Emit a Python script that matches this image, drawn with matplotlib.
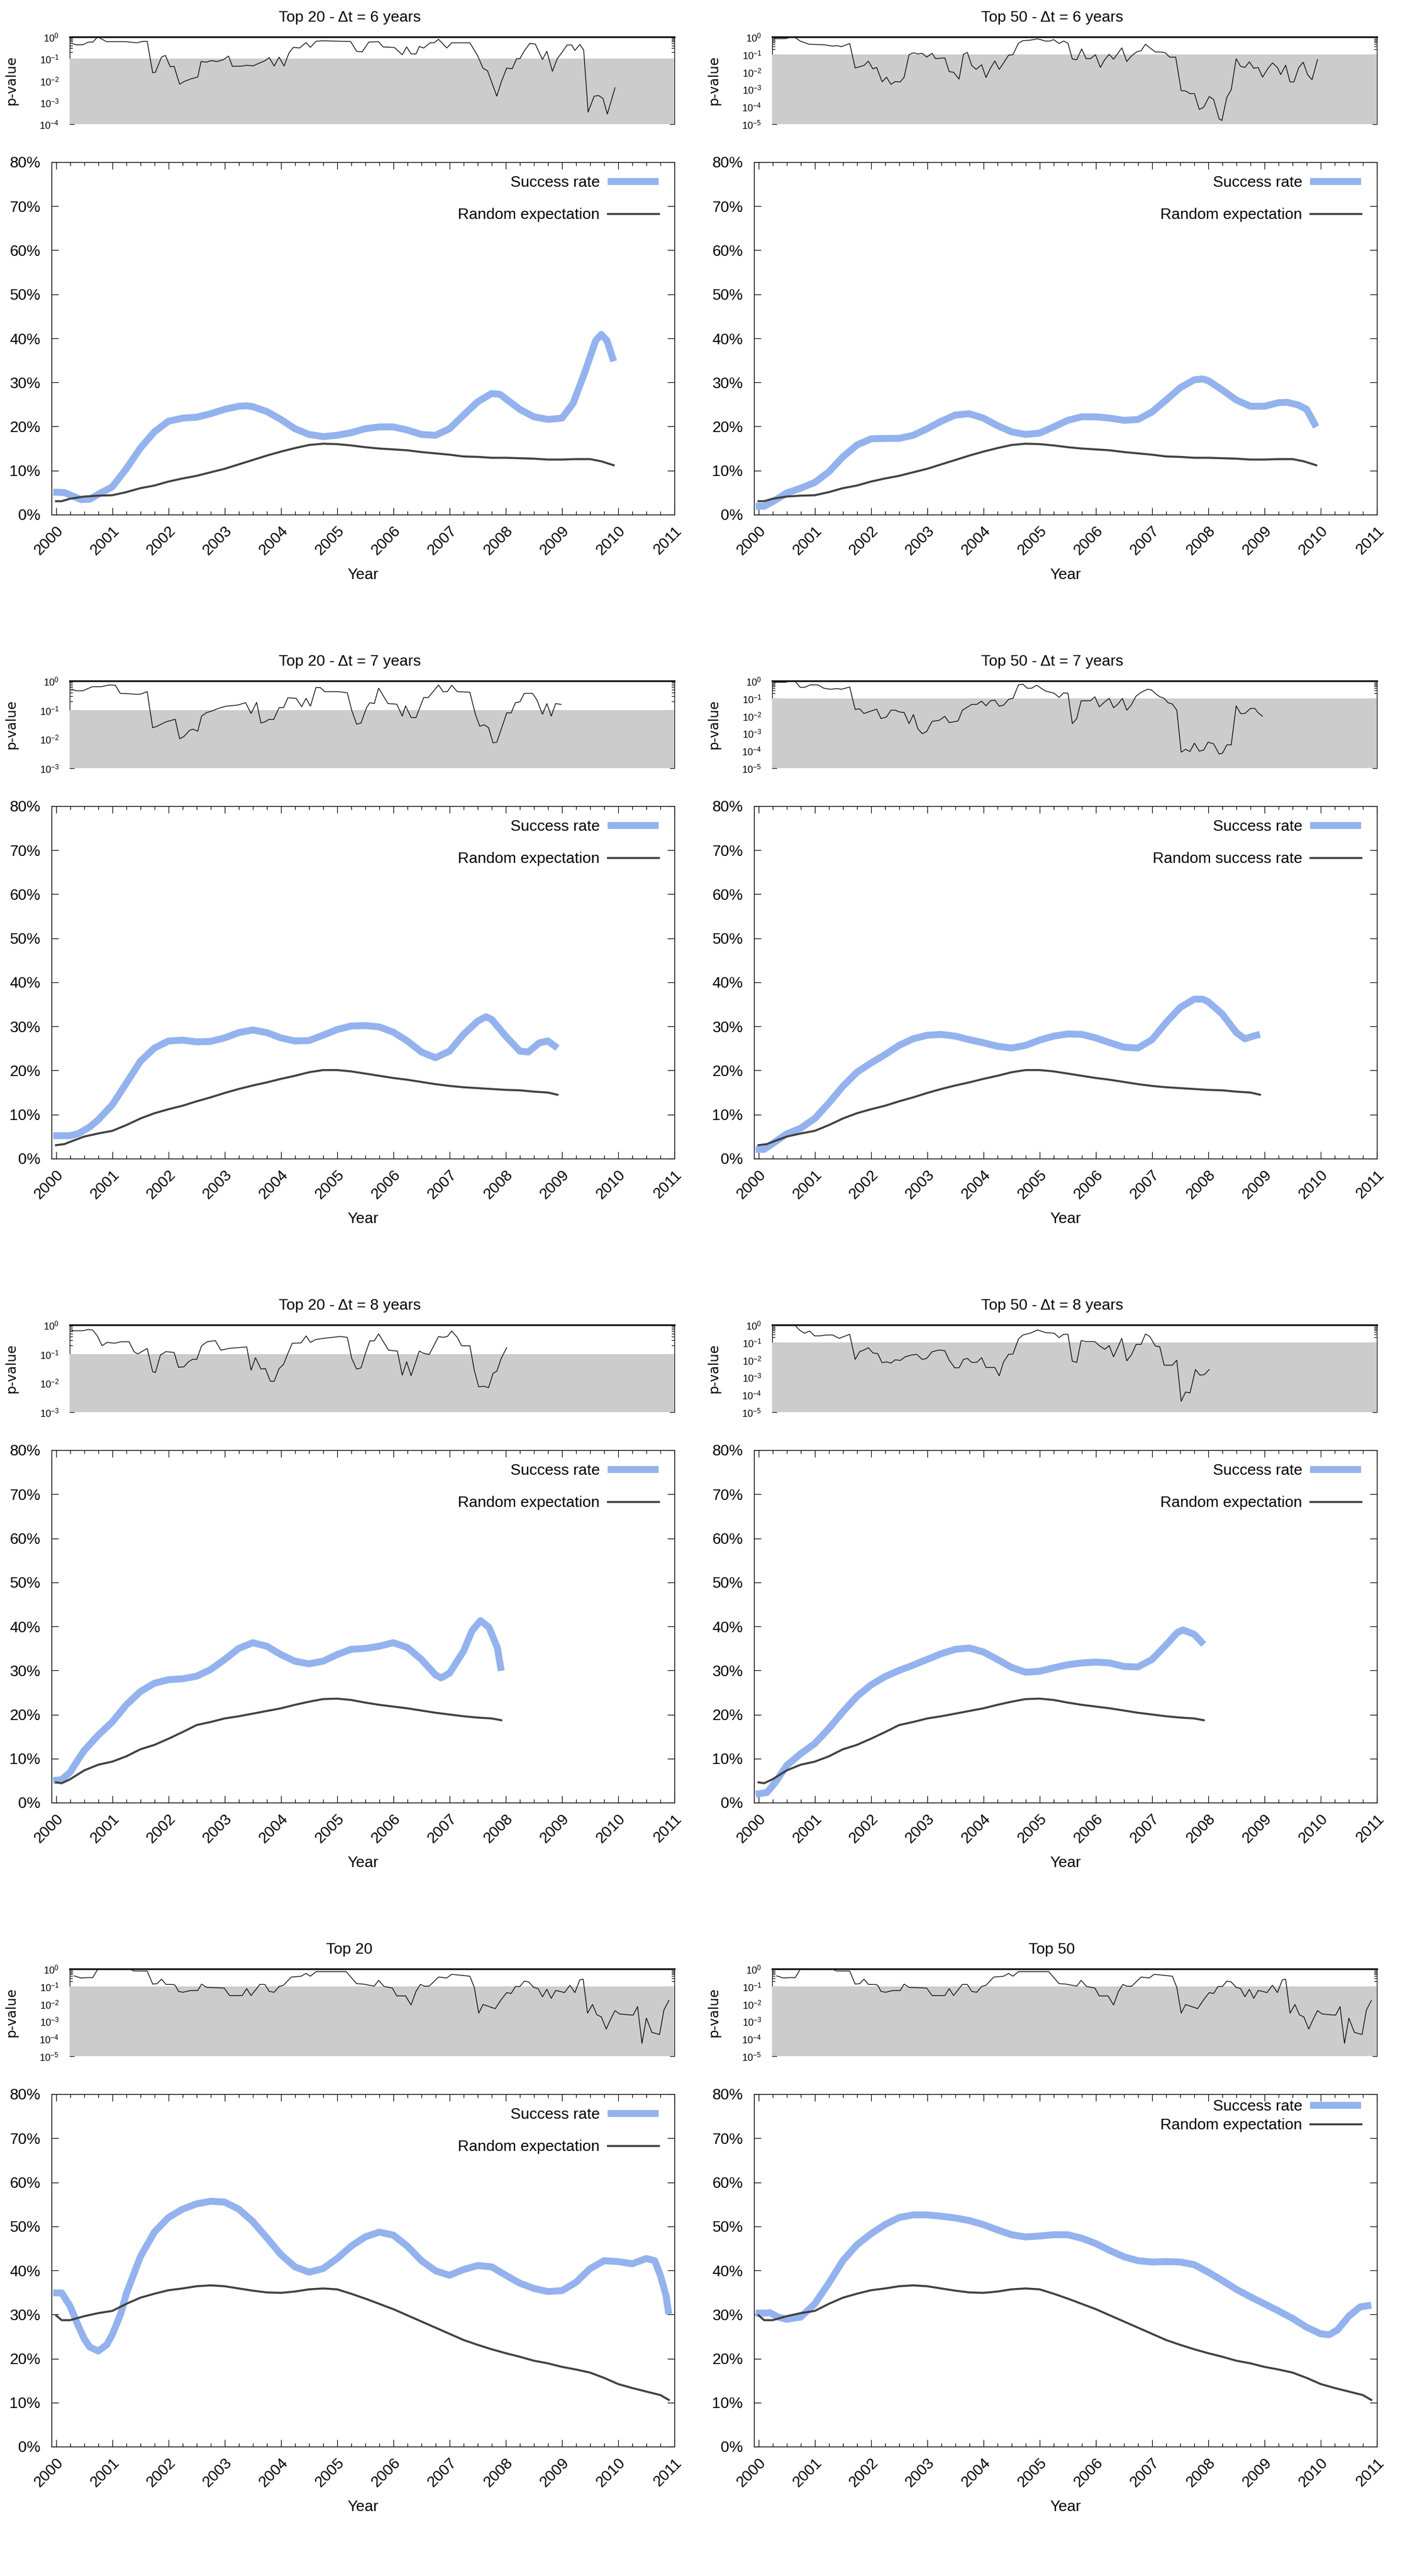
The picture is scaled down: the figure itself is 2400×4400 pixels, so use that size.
import numpy as np
import matplotlib
matplotlib.use('Agg')
import matplotlib.pyplot as plt
from matplotlib.lines import Line2D
from matplotlib.ticker import LogLocator, FixedLocator, MultipleLocator, FuncFormatter, NullFormatter

plt.rcParams['font.family'] = ['Liberation Sans', 'DejaVu Sans']
plt.rcParams['mathtext.fontset'] = 'custom'
plt.rcParams['mathtext.rm'] = 'Liberation Sans'
plt.rcParams['mathtext.it'] = 'Liberation Sans:italic'
plt.rcParams['mathtext.bf'] = 'Liberation Sans:bold'

# ---------------- data ----------------
titles = ['Top 20 - Δt = 6 years', 'Top 50 - Δt = 6 years',
          'Top 20 - Δt = 7 years', 'Top 50 - Δt = 7 years',
          'Top 20 - Δt = 8 years', 'Top 50 - Δt = 8 years',
          'Top 20', 'Top 50']
random_labels = ['Random expectation', 'Random expectation',
                 'Random expectation', 'Random success rate',
                 'Random expectation', 'Random expectation',
                 'Random expectation', 'Random expectation']
year_ticks = [2000, 2001, 2002, 2003, 2004, 2005, 2006, 2007, 2008, 2009, 2010, 2011]
year_labels = ['2000', '2001', '2002', '2003', '2004', '2005', '2006', '2007', '2008', '2009', '2010', '2011']
pct_ticks = [0, 10, 20, 30, 40, 50, 60, 70, 80]

# success rates (%)
s1_x = [1999.95, 2000.15, 2000.3, 2000.45, 2000.6, 2000.75, 2001.0, 2001.25, 2001.5, 2001.75, 2002.0, 2002.25,
        2002.5, 2002.75, 2003.0, 2003.25, 2003.4, 2003.5, 2003.75, 2004.0, 2004.25, 2004.5, 2004.75, 2005.0,
        2005.25, 2005.5, 2005.75, 2006.0, 2006.25, 2006.5, 2006.75, 2007.0, 2007.25, 2007.5, 2007.75, 2007.9,
        2008.0, 2008.25, 2008.5, 2008.75, 2009.0, 2009.2, 2009.4, 2009.6, 2009.7, 2009.8, 2009.92]
s1_y = [5.1, 5.0, 4.2, 3.4, 3.5, 4.6, 6.3, 10.4, 15.1, 18.8, 21.2, 21.9,
        22.1, 22.9, 23.9, 24.6, 24.7, 24.5, 23.4, 21.6, 19.5, 18.2, 17.7, 18.0,
        18.6, 19.5, 19.9, 19.9, 19.2, 18.2, 18.0, 19.5, 22.6, 25.6, 27.5, 27.3,
        26.3, 23.9, 22.2, 21.6, 21.9, 25.3, 32.1, 39.5, 40.9, 39.5, 34.8]

s2_x = [1999.95, 2000.1, 2000.25, 2000.5, 2000.75, 2001.0, 2001.25, 2001.5, 2001.75, 2002.0, 2002.25, 2002.5,
        2002.75, 2003.0, 2003.25, 2003.5, 2003.75, 2004.0, 2004.25, 2004.5, 2004.75, 2005.0, 2005.25, 2005.5,
        2005.75, 2006.0, 2006.25, 2006.5, 2006.75, 2007.0, 2007.25, 2007.5, 2007.75, 2007.9, 2008.0, 2008.25,
        2008.5, 2008.75, 2009.0, 2009.25, 2009.4, 2009.6, 2009.75, 2009.92]
s2_y = [1.9, 1.9, 2.9, 4.9, 6.0, 7.3, 9.7, 13.1, 15.8, 17.2, 17.3, 17.3,
        18.0, 19.5, 21.2, 22.6, 22.9, 21.9, 20.2, 18.8, 18.2, 18.5, 19.9, 21.4,
        22.2, 22.2, 21.9, 21.4, 21.6, 23.3, 26.0, 28.8, 30.6, 30.8, 30.4, 28.3,
        26.0, 24.6, 24.6, 25.4, 25.5, 24.9, 23.9, 19.9]

s3_x = [1999.95, 2000.25, 2000.4, 2000.6, 2000.75, 2001.0, 2001.25, 2001.5, 2001.75, 2002.0, 2002.25, 2002.5,
        2002.75, 2003.0, 2003.25, 2003.5, 2003.75, 2004.0, 2004.25, 2004.5, 2004.75, 2005.0, 2005.25, 2005.5,
        2005.75, 2006.0, 2006.25, 2006.5, 2006.75, 2007.0, 2007.25, 2007.5, 2007.65, 2007.75, 2008.0, 2008.25,
        2008.4, 2008.6, 2008.75, 2008.92]
s3_y = [5.2, 5.2, 5.7, 7.2, 8.8, 12.2, 17.1, 22.1, 25.1, 26.7, 26.9, 26.5,
        26.6, 27.4, 28.6, 29.2, 28.6, 27.4, 26.7, 26.8, 28.0, 29.3, 30.1, 30.2,
        29.9, 28.7, 26.7, 24.2, 22.9, 24.4, 28.2, 31.2, 32.2, 31.6, 27.8, 24.4,
        24.2, 26.3, 26.7, 25.1]

s4_x = [1999.95, 2000.1, 2000.25, 2000.5, 2000.75, 2001.0, 2001.25, 2001.5, 2001.75, 2002.0, 2002.25, 2002.5,
        2002.75, 2003.0, 2003.25, 2003.5, 2003.75, 2004.0, 2004.25, 2004.5, 2004.75, 2005.0, 2005.25, 2005.5,
        2005.75, 2006.0, 2006.25, 2006.5, 2006.75, 2007.0, 2007.25, 2007.5, 2007.75, 2007.9, 2008.0, 2008.25,
        2008.5, 2008.65, 2008.8, 2008.92]
s4_y = [2.1, 2.1, 3.4, 5.6, 6.9, 9.1, 12.6, 16.4, 19.6, 21.7, 23.6, 25.7,
        27.2, 28.0, 28.2, 27.8, 27.0, 26.3, 25.5, 25.1, 25.7, 26.9, 27.8, 28.3,
        28.2, 27.4, 26.3, 25.3, 25.1, 27.0, 30.9, 34.3, 36.2, 36.2, 35.6, 32.8,
        28.6, 27.2, 27.8, 28.2]

s5_x = [1999.95, 2000.1, 2000.25, 2000.4, 2000.5, 2000.75, 2001.0, 2001.25, 2001.5, 2001.75, 2002.0, 2002.25,
        2002.5, 2002.75, 2003.0, 2003.25, 2003.5, 2003.75, 2004.0, 2004.25, 2004.5, 2004.75, 2005.0, 2005.25,
        2005.5, 2005.75, 2006.0, 2006.25, 2006.5, 2006.75, 2006.85, 2007.0, 2007.25, 2007.4, 2007.55, 2007.7,
        2007.85, 2007.92]
s5_y = [5.0, 5.2, 6.9, 9.9, 11.8, 15.3, 18.3, 22.2, 25.2, 27.1, 27.9, 28.1,
        28.7, 30.2, 32.5, 35.0, 36.3, 35.5, 33.6, 32.1, 31.5, 32.1, 33.6, 34.8,
        35.0, 35.5, 36.3, 35.2, 32.5, 29.0, 28.3, 29.4, 34.4, 39.0, 41.3, 39.8,
        35.2, 29.9]

s6_x = [1999.95, 2000.15, 2000.3, 2000.5, 2000.75, 2001.0, 2001.25, 2001.5, 2001.75, 2002.0, 2002.25, 2002.5,
        2002.75, 2003.0, 2003.25, 2003.5, 2003.75, 2004.0, 2004.25, 2004.5, 2004.75, 2005.0, 2005.25, 2005.5,
        2005.75, 2006.0, 2006.25, 2006.5, 2006.75, 2007.0, 2007.25, 2007.45, 2007.55, 2007.75, 2007.92]
s6_y = [1.9, 2.3, 4.6, 8.4, 11.1, 13.4, 16.8, 20.6, 24.1, 26.7, 28.6, 30.0,
        31.2, 32.5, 33.8, 34.8, 35.1, 34.2, 32.5, 30.7, 29.6, 29.8, 30.6, 31.3,
        31.7, 31.9, 31.7, 30.9, 30.8, 32.5, 35.8, 38.6, 39.2, 38.2, 35.9]

s7_x = [1999.95, 2000.1, 2000.25, 2000.4, 2000.5, 2000.6, 2000.75, 2000.9, 2001.0, 2001.15, 2001.25, 2001.5,
        2001.75, 2002.0, 2002.25, 2002.5, 2002.75, 2003.0, 2003.25, 2003.5, 2003.75, 2004.0, 2004.25, 2004.5,
        2004.75, 2005.0, 2005.25, 2005.5, 2005.75, 2006.0, 2006.25, 2006.5, 2006.75, 2007.0, 2007.25, 2007.5,
        2007.75, 2008.0, 2008.25, 2008.5, 2008.75, 2009.0, 2009.25, 2009.5, 2009.75, 2010.0, 2010.25, 2010.5,
        2010.65, 2010.75, 2010.85, 2010.9]
s7_y = [34.9, 34.9, 31.9, 27.3, 24.5, 22.6, 21.7, 23.1, 25.4, 30.1, 34.7, 43.1,
        48.7, 52.0, 53.9, 55.1, 55.7, 55.5, 53.9, 51.1, 47.4, 43.6, 40.8, 39.6,
        40.4, 42.7, 45.5, 47.6, 48.7, 48.0, 45.5, 42.2, 39.9, 38.9, 40.2, 41.1,
        40.8, 38.9, 37.1, 35.9, 35.2, 35.4, 37.3, 40.4, 42.2, 42.0, 41.5, 42.7,
        42.2, 38.9, 34.3, 30.1]

s8_x = [1999.95, 2000.1, 2000.2, 2000.35, 2000.5, 2000.75, 2001.0, 2001.25, 2001.5, 2001.75, 2002.0, 2002.25,
        2002.5, 2002.75, 2003.0, 2003.25, 2003.5, 2003.75, 2004.0, 2004.25, 2004.5, 2004.75, 2005.0, 2005.25,
        2005.5, 2005.75, 2006.0, 2006.25, 2006.5, 2006.75, 2007.0, 2007.25, 2007.5, 2007.75, 2008.0, 2008.25,
        2008.5, 2008.75, 2009.0, 2009.25, 2009.5, 2009.75, 2010.0, 2010.15, 2010.3, 2010.5, 2010.7, 2010.9]
s8_y = [30.3, 30.3, 30.4, 29.4, 28.9, 29.4, 32.4, 37.1, 42.2, 45.8, 48.3, 50.4,
        52.0, 52.6, 52.6, 52.3, 51.9, 51.3, 50.4, 49.2, 48.1, 47.6, 47.8, 48.1,
        48.1, 47.3, 46.1, 44.5, 43.1, 42.2, 41.9, 42.0, 41.9, 41.3, 39.6, 37.7,
        35.7, 34.0, 32.4, 30.8, 29.1, 27.1, 25.6, 25.4, 26.5, 29.6, 31.7, 32.1]

# random expectation (%)
r6_x = [2000.0, 2000.1, 2000.25, 2000.5, 2000.75, 2001.0, 2001.25, 2001.5, 2001.75, 2002.0, 2002.25, 2002.5,
        2002.75, 2003.0, 2003.25, 2003.5, 2003.75, 2004.0, 2004.25, 2004.5, 2004.75, 2005.0, 2005.25, 2005.5,
        2005.75, 2006.0, 2006.25, 2006.5, 2006.75, 2007.0, 2007.25, 2007.5, 2007.75, 2008.0, 2008.25, 2008.5,
        2008.75, 2009.0, 2009.25, 2009.5, 2009.7, 2009.92]
r6_y = [3.05, 3.05, 3.6, 4.1, 4.3, 4.4, 5.1, 6.0, 6.6, 7.5, 8.2, 8.8,
        9.6, 10.4, 11.4, 12.4, 13.4, 14.3, 15.1, 15.8, 16.1, 16.0, 15.7, 15.3,
        15.0, 14.8, 14.6, 14.2, 13.9, 13.6, 13.2, 13.1, 12.9, 12.9, 12.8, 12.7,
        12.5, 12.5, 12.6, 12.6, 12.1, 11.2]

r7_x = [2000.0, 2000.15, 2000.25, 2000.5, 2000.75, 2001.0, 2001.25, 2001.5, 2001.75, 2002.0, 2002.25, 2002.5,
        2002.75, 2003.0, 2003.25, 2003.5, 2003.75, 2004.0, 2004.25, 2004.5, 2004.75, 2005.0, 2005.25, 2005.5,
        2005.75, 2006.0, 2006.25, 2006.5, 2006.75, 2007.0, 2007.25, 2007.5, 2007.75, 2008.0, 2008.25, 2008.5,
        2008.75, 2008.92]
r7_y = [3.05, 3.3, 3.8, 5.0, 5.7, 6.3, 7.6, 9.1, 10.3, 11.2, 12.0, 13.0,
        13.9, 14.9, 15.8, 16.6, 17.3, 18.1, 18.8, 19.6, 20.1, 20.1, 19.8, 19.3,
        18.8, 18.3, 17.9, 17.4, 16.9, 16.5, 16.2, 16.0, 15.8, 15.6, 15.5, 15.2,
        15.0, 14.5]

r8_x = [2000.0, 2000.1, 2000.25, 2000.5, 2000.75, 2001.0, 2001.25, 2001.5, 2001.75, 2002.0, 2002.25, 2002.5,
        2002.75, 2003.0, 2003.25, 2003.5, 2003.75, 2004.0, 2004.25, 2004.5, 2004.75, 2005.0, 2005.25, 2005.5,
        2005.75, 2006.0, 2006.25, 2006.5, 2006.75, 2007.0, 2007.25, 2007.5, 2007.75, 2007.92]
r8_y = [4.6, 4.4, 5.3, 7.3, 8.6, 9.3, 10.5, 12.1, 13.1, 14.5, 16.0, 17.6,
        18.3, 19.1, 19.6, 20.2, 20.8, 21.4, 22.2, 22.9, 23.5, 23.6, 23.3, 22.7,
        22.2, 21.8, 21.4, 20.9, 20.4, 20.0, 19.6, 19.3, 19.1, 18.7]

rall_x = [2000.0, 2000.1, 2000.25, 2000.5, 2000.75, 2001.0, 2001.25, 2001.5, 2001.75, 2002.0, 2002.25, 2002.5,
          2002.75, 2003.0, 2003.25, 2003.5, 2003.75, 2004.0, 2004.25, 2004.5, 2004.75, 2005.0, 2005.25, 2005.5,
          2005.75, 2006.0, 2006.25, 2006.5, 2006.75, 2007.0, 2007.25, 2007.5, 2007.75, 2008.0, 2008.25, 2008.5,
          2008.75, 2009.0, 2009.25, 2009.5, 2009.75, 2010.0, 2010.25, 2010.5, 2010.75, 2010.9]
rall_y = [29.8, 28.7, 28.7, 29.6, 30.3, 30.8, 32.4, 33.8, 34.7, 35.5, 35.9, 36.4,
          36.6, 36.4, 35.9, 35.4, 35.0, 34.9, 35.2, 35.7, 35.9, 35.7, 34.7, 33.6,
          32.4, 31.2, 29.8, 28.4, 27.0, 25.6, 24.2, 23.1, 22.1, 21.2, 20.4, 19.5,
          18.9, 18.1, 17.5, 16.8, 15.6, 14.2, 13.3, 12.5, 11.7, 10.6]

# p-values, stored as log10(p)
p1_x = [2000.04, 2000.12, 2000.24, 2000.34, 2000.42, 2000.51, 2000.67, 2001.02, 2001.22, 2001.33,
        2001.41, 2001.51, 2001.56, 2001.67, 2001.74, 2001.83, 2001.90, 2002.00, 2002.08, 2002.20,
        2002.33, 2002.39, 2002.49, 2002.57, 2002.69, 2002.80, 2002.89, 2002.96, 2003.14, 2003.22,
        2003.34, 2003.46, 2003.55, 2003.63, 2003.72, 2003.81, 2003.90, 2003.99, 2004.07, 2004.18,
        2004.30, 2004.38, 2004.48, 2004.60, 2004.93, 2005.11, 2005.22, 2005.32, 2005.44, 2005.62,
        2005.70, 2005.91, 2006.05, 2006.13, 2006.21, 2006.30, 2006.36, 2006.44, 2006.56, 2006.63,
        2006.71, 2006.86, 2006.95, 2007.28, 2007.42, 2007.52, 2007.60, 2007.77, 2007.85, 2007.95,
        2008.05, 2008.13, 2008.19, 2008.27, 2008.37, 2008.47, 2008.60, 2008.68, 2008.78, 2008.87,
        2008.97, 2009.05, 2009.13, 2009.19, 2009.28, 2009.35, 2009.43, 2009.54, 2009.62, 2009.70,
        2009.78, 2009.92]
p1_e = [-0.30, -0.36, -0.36, -0.24, -0.24, 0.0, -0.22, -0.22, -0.27, -0.21,
        -0.20, -1.64, -1.62, -0.93, -0.85, -1.37, -1.35, -2.17, -2.05, -1.93,
        -1.84, -1.13, -1.16, -1.09, -1.13, -1.04, -0.88, -1.35, -1.34, -1.30,
        -1.33, -1.19, -1.10, -0.95, -1.34, -0.93, -1.34, -0.73, -0.48, -0.51,
        -0.26, -0.48, -0.20, -0.18, -0.20, -0.21, -0.66, -0.69, -0.24, -0.22,
        -0.46, -0.49, -0.82, -0.46, -0.78, -0.78, -0.44, -0.51, -0.27, -0.27,
        -0.11, -0.51, -0.27, -0.27, -0.86, -1.44, -1.55, -2.72, -2.07, -1.43,
        -1.46, -1.0, -1.0, -0.64, -0.30, -0.33, -1.04, -0.66, -1.58, -1.0,
        -0.66, -0.37, -0.37, -0.62, -0.35, -0.60, -3.45, -2.72, -2.69, -2.82,
        -3.54, -2.33]

p2_x = [2000.04, 2000.24, 2000.31, 2000.41, 2000.51, 2000.67, 2000.94, 2001.10, 2001.18, 2001.26,
        2001.41, 2001.51, 2001.67, 2001.75, 2001.83, 2001.90, 2002.00, 2002.08, 2002.16, 2002.24,
        2002.33, 2002.40, 2002.49, 2002.57, 2002.65, 2002.73, 2002.81, 2002.91, 2002.97, 2003.14,
        2003.22, 2003.30, 2003.40, 2003.48, 2003.55, 2003.63, 2003.71, 2003.81, 2003.89, 2003.97,
        2004.05, 2004.13, 2004.21, 2004.30, 2004.38, 2004.48, 2004.56, 2004.69, 2004.83, 2004.97,
        2005.05, 2005.12, 2005.22, 2005.30, 2005.38, 2005.46, 2005.54, 2005.63, 2005.71, 2005.79,
        2005.88, 2005.97, 2006.05, 2006.13, 2006.21, 2006.36, 2006.45, 2006.54, 2006.64, 2006.71,
        2006.79, 2006.87, 2006.97, 2007.09, 2007.15, 2007.23, 2007.34, 2007.44, 2007.52, 2007.60,
        2007.68, 2007.77, 2007.85, 2007.95, 2008.03, 2008.13, 2008.18, 2008.27, 2008.35, 2008.44,
        2008.52, 2008.60, 2008.68, 2008.76, 2008.84, 2008.92, 2009.02, 2009.10, 2009.19, 2009.25,
        2009.34, 2009.42, 2009.49, 2009.58, 2009.66, 2009.74, 2009.82, 2009.92]
p2_e = [-0.10, -0.10, -0.04, -0.02, -0.24, -0.42, -0.45, -0.53, -0.50, -0.56,
        -0.38, -1.78, -1.64, -1.39, -1.83, -1.75, -2.58, -2.31, -2.72, -2.56,
        -2.58, -2.31, -1.02, -0.91, -0.98, -0.94, -1.16, -0.94, -1.25, -1.20,
        -1.99, -2.03, -2.42, -1.00, -0.89, -1.64, -1.86, -1.60, -2.33, -1.80,
        -1.38, -1.86, -1.49, -1.05, -1.02, -0.36, -0.22, -0.19, -0.11, -0.24,
        -0.24, -0.16, -0.38, -0.24, -0.36, -1.27, -1.31, -0.69, -1.25, -1.25,
        -1.02, -1.75, -1.30, -1.00, -1.28, -0.63, -1.41, -1.08, -0.84, -0.80,
        -0.42, -0.63, -0.86, -0.87, -0.91, -1.16, -1.16, -3.08, -3.10, -3.25,
        -3.25, -4.16, -4.03, -3.42, -3.59, -4.70, -4.79, -3.47, -3.03, -1.25,
        -1.69, -1.75, -1.43, -1.80, -1.75, -2.31, -1.80, -1.49, -1.75, -2.16,
        -1.62, -2.58, -2.58, -1.75, -1.45, -2.17, -2.45, -1.30]

p3_x = [2000.04, 2000.12, 2000.24, 2000.41, 2000.57, 2000.73, 2000.83, 2000.92, 2001.06, 2001.18,
        2001.28, 2001.41, 2001.51, 2001.59, 2001.75, 2001.92, 2002.00, 2002.08, 2002.18, 2002.24,
        2002.33, 2002.40, 2002.49, 2002.58, 2002.73, 2002.85, 2003.06, 2003.20, 2003.30, 2003.40,
        2003.48, 2003.55, 2003.63, 2003.71, 2003.81, 2003.89, 2003.97, 2004.12, 2004.22, 2004.30,
        2004.38, 2004.48, 2004.56, 2004.64, 2004.89, 2005.05, 2005.13, 2005.22, 2005.30, 2005.40,
        2005.46, 2005.54, 2005.62, 2005.79, 2005.95, 2006.05, 2006.11, 2006.21, 2006.30, 2006.44,
        2006.52, 2006.71, 2006.79, 2006.87, 2006.95, 2007.05, 2007.28, 2007.38, 2007.46, 2007.54,
        2007.62, 2007.70, 2007.77, 2007.95, 2008.03, 2008.11, 2008.19, 2008.27, 2008.42, 2008.50,
        2008.60, 2008.68, 2008.76, 2008.84, 2008.94]
p3_e = [-0.29, -0.34, -0.34, -0.20, -0.20, -0.14, -0.15, -0.43, -0.44, -0.46,
        -0.46, -0.37, -1.61, -1.56, -1.41, -1.32, -1.99, -1.91, -1.70, -1.66,
        -1.73, -1.21, -1.09, -1.04, -0.93, -0.87, -0.83, -0.75, -1.12, -0.74,
        -1.45, -1.41, -1.32, -1.33, -0.92, -0.92, -0.58, -0.60, -0.89, -0.60,
        -0.87, -0.23, -0.23, -0.37, -0.37, -0.41, -1.01, -1.49, -1.45, -0.92,
        -0.75, -0.78, -0.25, -0.78, -0.80, -1.21, -0.86, -1.26, -1.26, -0.57,
        -0.58, -0.14, -0.37, -0.37, -0.15, -0.37, -0.39, -1.15, -1.56, -1.51,
        -1.61, -2.13, -2.11, -1.10, -1.10, -0.75, -0.72, -0.43, -0.43, -0.66,
        -1.15, -0.78, -1.21, -0.78, -0.81]

p4_x = [2000.04, 2000.23, 2000.34, 2000.42, 2000.51, 2000.59, 2000.69, 2000.83, 2000.94, 2001.06,
        2001.18, 2001.26, 2001.41, 2001.51, 2001.59, 2001.67, 2001.75, 2001.90, 2001.98, 2002.08,
        2002.16, 2002.24, 2002.31, 2002.40, 2002.49, 2002.57, 2002.65, 2002.73, 2002.81, 2002.91,
        2003.04, 2003.14, 2003.22, 2003.38, 2003.46, 2003.63, 2003.72, 2003.81, 2003.89, 2003.97,
        2004.05, 2004.13, 2004.21, 2004.30, 2004.38, 2004.48, 2004.56, 2004.64, 2004.72, 2004.81,
        2004.97, 2005.13, 2005.22, 2005.30, 2005.38, 2005.46, 2005.54, 2005.62, 2005.79, 2005.87,
        2005.95, 2006.05, 2006.13, 2006.21, 2006.29, 2006.37, 2006.45, 2006.53, 2006.62, 2006.72,
        2006.83, 2006.90, 2006.98, 2007.05, 2007.13, 2007.20, 2007.28, 2007.36, 2007.44, 2007.52,
        2007.60, 2007.68, 2007.77, 2007.85, 2007.93, 2008.03, 2008.13, 2008.19, 2008.27, 2008.35,
        2008.44, 2008.52, 2008.60, 2008.70, 2008.78, 2008.84, 2008.92]
p4_e = [-0.08, -0.08, -0.02, -0.04, -0.37, -0.37, -0.23, -0.23, -0.42, -0.48,
        -0.44, -0.48, -0.35, -1.64, -1.60, -1.87, -1.78, -1.62, -2.16, -2.07,
        -1.68, -1.68, -1.78, -1.81, -2.45, -1.93, -2.74, -3.03, -2.90, -2.32,
        -2.26, -2.03, -2.39, -2.30, -1.68, -1.35, -1.35, -1.16, -1.43, -1.14,
        -1.10, -1.45, -1.39, -1.06, -1.00, -0.23, -0.19, -0.42, -0.42, -0.25,
        -0.58, -0.71, -0.95, -0.69, -0.71, -2.45, -2.16, -1.14, -1.14, -0.91,
        -1.49, -1.20, -1.00, -1.54, -1.33, -1.00, -1.68, -1.39, -0.87, -0.64,
        -0.48, -0.52, -0.75, -0.91, -1.00, -1.25, -1.33, -1.68, -4.09, -3.92,
        -4.05, -3.57, -4.03, -3.96, -3.51, -3.61, -4.19, -4.15, -3.67, -3.67,
        -1.43, -1.87, -1.87, -1.58, -1.58, -1.83, -2.03]

p5_x = [2000.04, 2000.24, 2000.34, 2000.42, 2000.51, 2000.59, 2000.68, 2000.81, 2000.94, 2001.08,
        2001.17, 2001.24, 2001.41, 2001.51, 2001.56, 2001.65, 2001.75, 2001.90, 2001.98, 2002.08,
        2002.16, 2002.24, 2002.31, 2002.40, 2002.50, 2002.65, 2002.75, 2002.89, 2003.14, 2003.22,
        2003.30, 2003.38, 2003.48, 2003.56, 2003.65, 2003.72, 2003.81, 2003.89, 2003.97, 2004.05,
        2004.21, 2004.30, 2004.38, 2004.48, 2004.72, 2004.93, 2005.05, 2005.13, 2005.22, 2005.30,
        2005.38, 2005.46, 2005.54, 2005.62, 2005.80, 2005.96, 2006.05, 2006.13, 2006.21, 2006.36,
        2006.44, 2006.54, 2006.71, 2006.79, 2006.87, 2006.95, 2007.05, 2007.13, 2007.28, 2007.36,
        2007.44, 2007.54, 2007.62, 2007.70, 2007.77, 2007.85, 2007.95]
p5_e = [-0.20, -0.20, -0.16, -0.18, -0.40, -0.72, -0.60, -0.63, -0.58, -0.58,
        -0.92, -1.00, -0.81, -1.61, -1.64, -1.04, -0.92, -0.95, -1.46, -1.44,
        -1.27, -1.18, -1.19, -0.72, -0.58, -0.54, -0.87, -0.81, -0.77, -0.76,
        -1.56, -1.13, -1.52, -1.50, -1.94, -1.94, -1.50, -1.36, -0.98, -0.63,
        -0.62, -0.38, -0.60, -0.50, -0.44, -0.40, -0.43, -1.15, -1.52, -1.48,
        -0.98, -0.55, -0.55, -0.31, -0.87, -0.90, -1.73, -1.27, -1.75, -0.90,
        -0.98, -1.02, -0.40, -0.43, -0.40, -0.21, -0.43, -0.72, -0.72, -1.56,
        -2.13, -2.11, -2.16, -1.67, -1.59, -1.15, -0.78]

p6_x = [2000.04, 2000.41, 2000.51, 2000.59, 2000.68, 2000.77, 2000.87, 2000.98, 2001.10, 2001.22,
        2001.41, 2001.51, 2001.59, 2001.67, 2001.75, 2001.83, 2001.92, 2002.00, 2002.08, 2002.16,
        2002.24, 2002.33, 2002.42, 2002.53, 2002.63, 2002.73, 2002.81, 2002.91, 2003.04, 2003.14,
        2003.22, 2003.32, 2003.40, 2003.48, 2003.55, 2003.63, 2003.72, 2003.81, 2003.89, 2004.05,
        2004.13, 2004.21, 2004.30, 2004.38, 2004.48, 2004.56, 2004.69, 2004.83, 2004.97, 2005.13,
        2005.22, 2005.30, 2005.38, 2005.46, 2005.54, 2005.62, 2005.71, 2005.87, 2005.95, 2006.05,
        2006.13, 2006.21, 2006.36, 2006.45, 2006.54, 2006.62, 2006.71, 2006.79, 2006.87, 2006.97,
        2007.05, 2007.13, 2007.28, 2007.36, 2007.44, 2007.52, 2007.60, 2007.70, 2007.78, 2007.86,
        2007.95]
p6_e = [-0.04, -0.02, -0.33, -0.48, -0.35, -0.63, -0.63, -0.58, -0.58, -0.77,
        -0.54, -1.98, -1.54, -1.44, -1.31, -1.60, -1.65, -2.17, -2.12, -2.19,
        -2.00, -2.04, -1.83, -1.73, -1.69, -1.98, -1.92, -1.54, -1.44, -1.48,
        -2.02, -2.46, -2.46, -1.98, -1.92, -2.15, -2.15, -1.88, -2.44, -2.44,
        -2.92, -2.12, -1.69, -1.67, -0.81, -0.58, -0.48, -0.29, -0.44, -0.48,
        -0.73, -0.54, -0.54, -2.08, -2.15, -0.90, -0.96, -0.96, -1.19, -1.40,
        -1.19, -1.83, -0.77, -2.06, -1.69, -1.12, -1.12, -0.52, -0.67, -1.21,
        -1.25, -2.31, -2.31, -2.02, -4.38, -3.85, -3.90, -2.56, -2.88, -2.85,
        -2.56]

p7_x = [2000.08, 2000.20, 2000.33, 2000.42, 2000.51, 2000.69, 2001.10, 2001.17, 2001.41, 2001.51,
        2001.59, 2001.67, 2001.75, 2001.87, 2001.92, 2001.98, 2002.06, 2002.20, 2002.33, 2002.40,
        2002.49, 2002.81, 2002.91, 2003.14, 2003.22, 2003.30, 2003.46, 2003.55, 2003.63, 2003.72,
        2003.81, 2003.89, 2004.03, 2004.21, 2004.30, 2004.38, 2004.48, 2005.03, 2005.22, 2005.34,
        2005.54, 2005.62, 2005.72, 2005.87, 2005.95, 2006.11, 2006.21, 2006.30, 2006.38, 2006.45,
        2006.54, 2006.71, 2006.86, 2006.95, 2007.28, 2007.36, 2007.44, 2007.52, 2007.74, 2007.85,
        2007.95, 2008.03, 2008.11, 2008.19, 2008.27, 2008.35, 2008.44, 2008.52, 2008.60, 2008.68,
        2008.76, 2008.84, 2008.92, 2009.00, 2009.10, 2009.19, 2009.28, 2009.34, 2009.42, 2009.51,
        2009.59, 2009.67, 2009.76, 2009.84, 2009.92, 2010.00, 2010.15, 2010.25, 2010.33, 2010.41,
        2010.49, 2010.59, 2010.73, 2010.81, 2010.90]
p7_e = [-0.40, -0.52, -0.50, -0.50, -0.02, -0.02, -0.02, -0.12, -0.12, -0.87,
        -0.85, -0.59, -0.89, -0.89, -0.94, -1.29, -1.34, -1.24, -1.24, -0.87,
        -1.06, -1.10, -1.53, -1.53, -1.13, -1.53, -0.89, -0.89, -1.29, -1.34,
        -1.01, -0.94, -0.47, -0.42, -0.26, -0.42, -0.16, -0.16, -0.85, -0.87,
        -0.99, -0.66, -1.01, -1.10, -1.55, -1.55, -2.07, -1.29, -0.89, -0.99,
        -0.99, -0.47, -0.52, -0.31, -0.42, -1.06, -2.54, -2.04, -2.28, -1.76,
        -1.36, -1.41, -1.01, -1.01, -0.70, -0.75, -1.06, -1.13, -1.60, -1.17,
        -1.69, -1.24, -1.29, -1.36, -0.94, -1.36, -0.63, -0.59, -2.54, -2.04,
        -2.63, -2.75, -3.45, -2.89, -2.39, -2.58, -2.63, -2.65, -2.16, -4.27,
        -2.82, -3.64, -3.76, -2.35, -1.81]

p_floor = [-4, -5, -3, -5, -3, -5, -5, -5]

# ---------------- layout / style ----------------
BLUE = '#93B2EE'
DARK = '#404040'
GRAY = '#cccccc'
FS = 19
W, H = 2400, 4400
MAIN_L, MAIN_R = 88, 1152
MAIN_T, MAIN_B = 277, 879
P_L, P_T, P_B = 119, 63, 212
MW = MAIN_R - MAIN_L
MH = MAIN_B - MAIN_T

panels = [
    (s1_x, s1_y, r6_x, r6_y, p1_x, p1_e, (35, 90)),
    (s2_x, s2_y, r6_x, r6_y, p2_x, p2_e, (35, 90)),
    (s3_x, s3_y, r7_x, r7_y, p3_x, p3_e, (35, 90)),
    (s4_x, s4_y, r7_x, r7_y, p4_x, p4_e, (35, 90)),
    (s5_x, s5_y, r8_x, r8_y, p5_x, p5_e, (35, 90)),
    (s6_x, s6_y, r8_x, r8_y, p6_x, p6_e, (35, 90)),
    (s7_x, s7_y, rall_x, rall_y, p7_x, p7_e, (35, 90)),
    (s8_x, s8_y, rall_x, rall_y, p7_x, p7_e, (21, 53)),
]

fig = plt.figure(figsize=(W / 100, H / 100), dpi=100)
fig.patch.set_facecolor('white')

for i, (sx, sy, rx, ry, px, pe, legpos) in enumerate(panels):
    row, col = divmod(i, 2)
    x0 = 1200 * col
    y0 = 1100 * row

    # ---- p-value panel ----
    axp = fig.add_axes([(x0 + P_L) / W, 1 - (y0 + P_B) / H, (MAIN_R - P_L) / W, (P_B - P_T) / H])
    lo = 10.0 ** p_floor[i]
    axp.set_xlim(2000, 2011)
    axp.set_yscale('log')
    axp.set_ylim(lo, 1)
    axp.axhspan(lo, 0.1, facecolor=GRAY, lw=0, zorder=1)
    axp.plot(px, 10.0 ** np.array(pe), color='black', lw=0.9, zorder=2)
    axp.set_xticks([])
    axp.yaxis.set_major_locator(LogLocator(base=10, numticks=20))
    axp.yaxis.set_minor_locator(LogLocator(base=10, subs=np.arange(2, 10), numticks=20))
    axp.yaxis.set_minor_formatter(NullFormatter())
    axp.yaxis.set_major_formatter(FuncFormatter(lambda v, pos: r'$10^{%d}$' % int(round(np.log10(v)))))
    axp.tick_params(axis='y', which='both', direction='in', left=True, right=True,
                    labelsize=12, pad=13, width=0.8)
    axp.tick_params(axis='y', which='major', length=6)
    axp.tick_params(axis='y', which='minor', length=3.5)
    axp.set_axisbelow(True)
    axp.spines['bottom'].set_visible(False)
    for s in ('left', 'right'):
        axp.spines[s].set_zorder(0.5)
        axp.spines[s].set_linewidth(0.8)
    axp.spines['top'].set_linewidth(2.0)
    axp.spines['top'].set_zorder(3)

    fig.text((x0 + 19) / W, 1 - (y0 + 137) / H, 'p-value', rotation=90, ha='center', va='center',
             fontsize=16.5, family=['DejaVu Sans'])
    fig.text((x0 + 597) / W, 1 - (y0 + 30) / H, titles[i], ha='center', va='center', fontsize=FS)

    # ---- main panel ----
    axm = fig.add_axes([(x0 + MAIN_L) / W, 1 - (y0 + MAIN_B) / H, MW / W, MH / H])
    axm.set_xlim(1999.92, 2011)
    axm.set_ylim(0, 80)
    axm.plot(sx, sy, color=BLUE, lw=8.5, solid_capstyle='butt', solid_joinstyle='round', zorder=2)
    axm.plot(rx, ry, color=DARK, lw=2.5, zorder=3)
    axm.xaxis.set_major_locator(FixedLocator(year_ticks))
    axm.xaxis.set_minor_locator(MultipleLocator(0.25))
    axm.set_xticklabels(year_labels, rotation=45, ha='right', va='top', rotation_mode='anchor')
    axm.yaxis.set_major_locator(FixedLocator(pct_ticks))
    axm.yaxis.set_major_formatter(FuncFormatter(lambda v, pos: '%d%%' % int(round(v))))
    axm.tick_params(which='both', direction='in', top=True, right=True, width=0.8)
    axm.tick_params(which='major', length=8.5, labelsize=FS, pad=13.5)
    axm.tick_params(axis='x', which='major', pad=11)
    axm.tick_params(which='minor', length=4.5)
    for s in axm.spines.values():
        s.set_linewidth(1.0)
    axm.text(0.5, -103 / MH, 'Year', transform=axm.transAxes, ha='center', va='center', fontsize=FS)

    h1 = Line2D([], [], color=BLUE, lw=8.5, solid_capstyle='butt')
    h2 = Line2D([], [], color=DARK, lw=2.5)
    xa = 1 - 27 / MW
    leg1 = axm.legend([h1], ['Success rate'], loc='center right',
                      bbox_to_anchor=(xa, 1 - legpos[0] / MH), bbox_transform=axm.transAxes,
                      frameon=False, borderpad=0, borderaxespad=0, handlelength=3.3,
                      handletextpad=0.5, markerfirst=False, fontsize=FS)
    axm.add_artist(leg1)
    axm.legend([h2], [random_labels[i]], loc='center right',
               bbox_to_anchor=(xa, 1 - legpos[1] / MH), bbox_transform=axm.transAxes,
               frameon=False, borderpad=0, borderaxespad=0, handlelength=3.3,
               handletextpad=0.5, markerfirst=False, fontsize=FS)

fig.savefig('out.png', dpi=100, facecolor='white')
